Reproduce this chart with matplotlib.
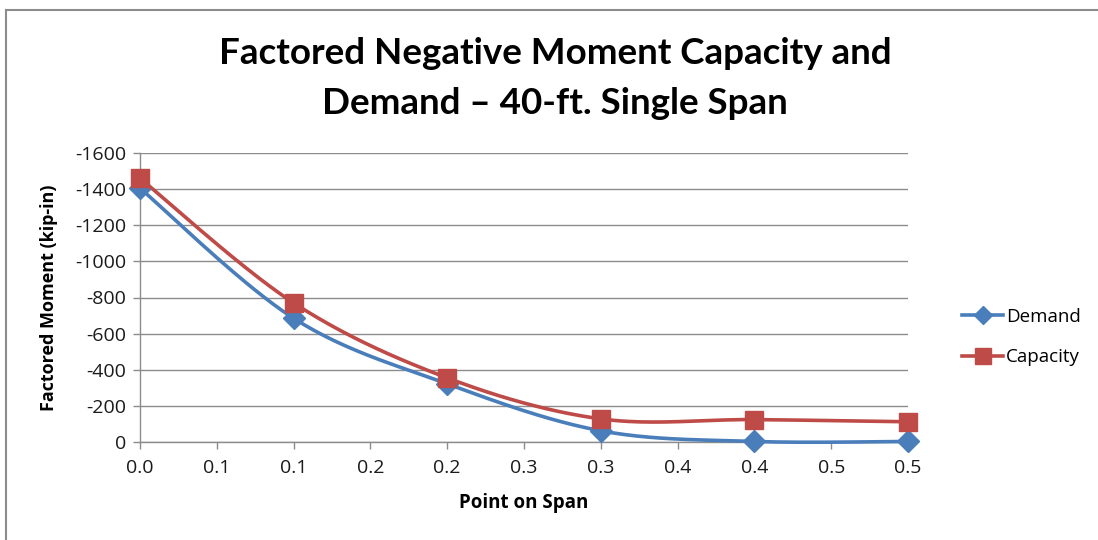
import numpy as np
import matplotlib
matplotlib.use("Agg")
import matplotlib.pyplot as plt
from matplotlib.lines import Line2D

# Data
span_points = [0.0, 0.1, 0.2, 0.3, 0.4, 0.5]
demand = [-1405, -685, -322, -62, -3, -3]
capacity = [-1460, -770, -355, -128, -124, -112]
x_ticks = [0.0, 0.05, 0.1, 0.15, 0.2, 0.25, 0.3, 0.35, 0.4, 0.45, 0.5]
x_tick_labels = ["0.0", "0.1", "0.1", "0.2", "0.2", "0.3", "0.3", "0.4", "0.4", "0.5", "0.5"]
y_ticks = [0, -200, -400, -600, -800, -1000, -1200, -1400, -1600]
series_names = ["Demand", "Capacity"]

BLUE = "#4A7EBB"
RED = "#BE4B48"
GRID = "#8C8C8C"


def smooth_curve(xs, ys, n=40):
    """Catmull-Rom style Bezier smoothing through every point."""
    p = np.column_stack([xs, ys]).astype(float)
    ext = np.vstack([p[0], p, p[-1]])
    out = []
    t = np.linspace(0, 1, n)[:, None]
    for i in range(len(p) - 1):
        p0, p1, p2, p3 = ext[i], ext[i + 1], ext[i + 2], ext[i + 3]
        c1 = p1 + (p2 - p0) / 6.0
        c2 = p2 - (p3 - p1) / 6.0
        seg = ((1 - t) ** 3) * p1 + 3 * ((1 - t) ** 2) * t * c1 + 3 * (1 - t) * t ** 2 * c2 + t ** 3 * p2
        out.append(seg if i == 0 else seg[1:])
    seg = np.vstack(out)
    return seg[:, 0], seg[:, 1]


W, H = 1098, 540
fig = plt.figure(figsize=(W / 100, H / 100), dpi=100)
fig.patch.set_facecolor("white")

# Chart frame (left and top edges visible)
fig.add_artist(Line2D([6 / W, 6 / W], [0, 1 - 10 / H], color="#8C8C8C", lw=1.5))
fig.add_artist(Line2D([6 / W, 1], [1 - 10 / H, 1 - 10 / H], color="#8C8C8C", lw=1.5))

ax = fig.add_axes([140 / W, 1 - 442 / H, (908 - 140) / W, (442 - 153) / H])
ax.set_xlim(0, 0.5)
ax.set_ylim(0, -1600)

for s in ["top", "right"]:
    ax.spines[s].set_visible(False)
for s in ["left", "bottom"]:
    ax.spines[s].set_color(GRID)
    ax.spines[s].set_linewidth(1.0)

ax.set_yticks(y_ticks)
ax.set_yticklabels([str(v) for v in y_ticks])
ax.set_xticks(x_ticks)
ax.set_xticklabels(x_tick_labels)
ax.yaxis.grid(True, color=GRID, lw=1.0)
ax.set_axisbelow(True)
ax.tick_params(axis="both", direction="out", length=5, color=GRID, width=1.0,
               labelsize=14, labelcolor="#1a1a1a")
ax.tick_params(axis="y", pad=5)
ax.tick_params(axis="x", pad=7)
for lab in ax.get_xticklabels() + ax.get_yticklabels():
    lab.set_fontfamily("Open Sans")

dx, dy = smooth_curve(span_points, demand)
cx, cy = smooth_curve(span_points, capacity)
ax.plot(dx, dy, color=BLUE, lw=2.6, zorder=3, clip_on=False, solid_capstyle="round")
ax.plot(span_points, demand, ls="none", marker="D", ms=11, color=BLUE, zorder=3, clip_on=False)
ax.plot(cx, cy, color=RED, lw=2.6, zorder=4, clip_on=False, solid_capstyle="round")
ax.plot(span_points, capacity, ls="none", marker="s", ms=12.5, color=RED, zorder=4, clip_on=False)

ax.set_xlabel("Point on Span", fontfamily="Open Sans", fontweight="bold", fontsize=13.5, labelpad=12)
ax.set_ylabel("Factored Moment (kip-in)", fontfamily="Open Sans", fontweight="bold", fontsize=13, labelpad=12)

fig.text(555 / W, 1 - 54 / H, "Factored Negative Moment Capacity and", ha="center", va="center",
         fontfamily="Lato", fontweight="bold", fontsize=26.5, color="black")
fig.text(555 / W, 1 - 103 / H, "Demand \u2013 40-ft. Single Span", ha="center", va="center",
         fontfamily="Lato", fontweight="bold", fontsize=26.5, color="black")

handles = [
    Line2D([], [], color=BLUE, lw=2.6, marker="D", ms=9),
    Line2D([], [], color=RED, lw=2.6, marker="s", ms=11),
]
leg = fig.legend(handles, series_names, loc="center left", bbox_to_anchor=(945 / W, 1 - 337 / H),
                 frameon=False, prop={"family": "Open Sans", "size": 13.5},
                 handlelength=2.2, handletextpad=0.15, labelspacing=1.2)

fig.savefig("out.png", dpi=100, facecolor="white")
